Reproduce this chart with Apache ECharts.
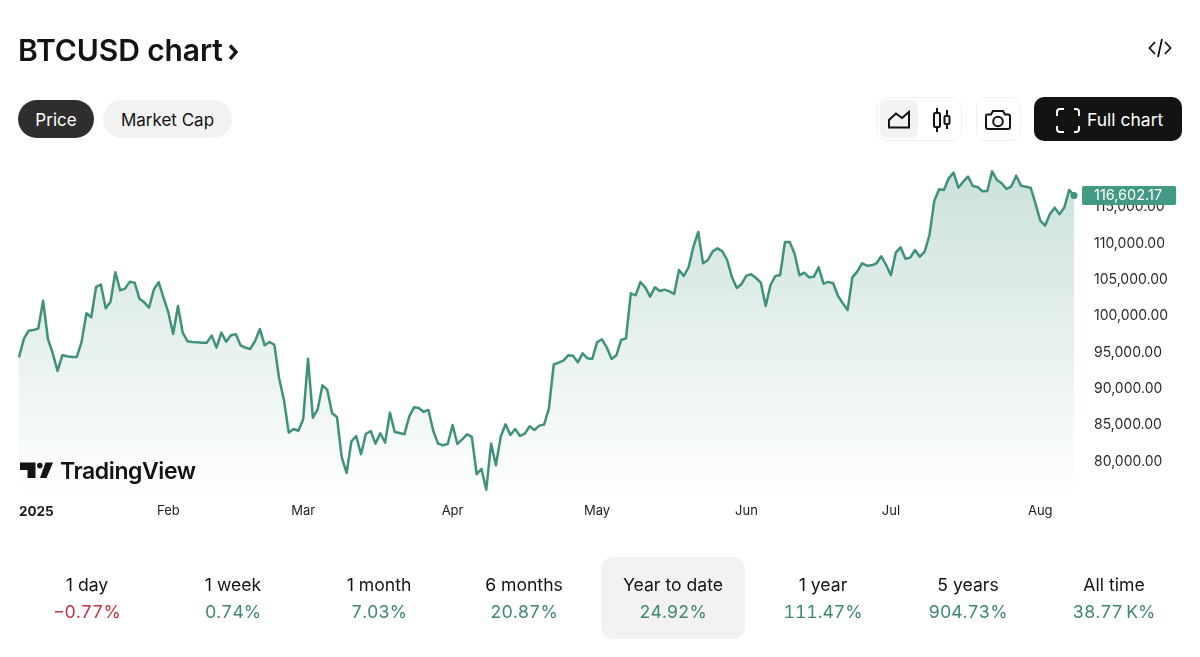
<!DOCTYPE html>
<html>
<head>
<meta charset="utf-8">
<title>BTCUSD chart</title>
<script src="https://cdn.jsdelivr.net/npm/echarts@6/dist/echarts.min.js"></script>
<style>
  html, body { margin: 0; padding: 0; background: #fff; }
  body { width: 1200px; height: 657px; position: relative; overflow: hidden; font-family: Inter, "Noto Sans", sans-serif; color: #131313; }
  #chart { position: absolute; left: 0; top: 0; width: 1200px; height: 657px; }
  .abs { position: absolute; box-sizing: border-box; }
  .title { left: 18px; top: 30px; font-size: 30px; line-height: 40px; font-weight: 600; letter-spacing: -0.1px; }
  .pill { top: 100px; height: 38px; line-height: 40px; border-radius: 19px; text-align: center; font-size: 17px; }
  .box { top: 97px; height: 44px; border: 1.5px solid #f0f0f0; border-radius: 10px; }
  .full { left: 1034px; top: 97px; width: 148px; height: 44px; border-radius: 10px; background: #131313; color: #fff; font-size: 17.5px; font-weight: 400; line-height: 46px; padding-left: 53px; }
  .logo { left: 60px; top: 455px; font-size: 23px; line-height: 32px; font-weight: 600; letter-spacing: -0.4px; color: #131313; }
  .tab { top: 557px; width: 144px; height: 82px; margin-left: -72px; border-radius: 12px; text-align: center; }
  .tab.on { background: #f2f2f2; }
  .tab .name { position: absolute; left: 0; right: 0; top: 17px; font-size: 17.6px; line-height: 22px; }
  .tab .chg { position: absolute; left: 0; right: 0; top: 44px; font-size: 17.6px; line-height: 22px; color: #3f8774; font-variant-numeric: tabular-nums; }
  .tab .chg.neg { color: #bf3340; }
  svg { position: absolute; overflow: visible; }
</style>
</head>
<body>
<div id="chart"></div>

<div class="abs title">BTCUSD chart</div>
<svg style="left:0;top:0" width="1200" height="657" fill="none" stroke="#131313">
  <!-- title chevron and embed icon -->
  <path d="M230 45.5 L236 52 L230 59" stroke-width="3.4"/>
  <path d="M1155 42 L1149.5 48 L1155 54 M1165 42 L1170.5 48 L1165 54 M1162 39 L1158 57" stroke-width="1.8"/>
</svg>

<div class="abs pill" style="left:18px;width:76px;background:#2e2e2e;color:#fff">Price</div>
<div class="abs pill" style="left:103px;width:129px;background:#f2f2f2">Market Cap</div>

<div class="abs box" style="left:877px;width:85px"></div>
<div class="abs" style="left:880px;top:100px;width:38px;height:38px;border-radius:7px;background:#f2f2f2"></div>
<div class="abs box" style="left:976px;width:45px"></div>
<div class="abs full">Full chart</div>

<svg style="left:0;top:0" width="1200" height="657" fill="none" stroke="#131313" stroke-width="2">
  <!-- toolbar icons -->
  <path d="M889 127.5 V120 L896 113.5 L902 118 L909 112 V127.5 Z"/>
  <path d="M937 108 V113 M937 127 V132 M947 110 V116 M947 124 V129"/>
  <rect x="934" y="113" width="6" height="14" rx="1"/>
  <rect x="944.5" y="116" width="5" height="8" rx="1"/>
  <path d="M987 114.5 H991 L993 111 H1003 L1005 114.5 H1008.5 Q1010 114.5 1010 116 V127 Q1010 129 1008 129 H988 Q986 129 986 127 V116 Q986 114.5 987 114.5 Z"/>
  <circle cx="998" cy="121.5" r="4.8"/>
  <g stroke="#fff" stroke-width="2">
    <path d="M1057 116 V112 Q1057 109 1060 109 H1064 M1074 109 H1076 Q1079 109 1079 112 V116 M1079 126 V129 Q1079 132 1076 132 H1074 M1064 132 H1060 Q1057 132 1057 129 V126"/>
  </g>
</svg>

<svg style="left:0;top:0" width="1200" height="657" fill="#131313" stroke="none">
  <!-- TradingView mark -->
  <path d="M20 462.5 H35.5 V478 H27.5 V470 H20 Z"/>
  <circle cx="39.8" cy="465.6" r="2.8"/>
  <path d="M45.5 462.5 H53 L46.5 478 H40 Z"/>
</svg>
<div class="abs logo">TradingView</div>

<div id="tabs"></div>

<script>
// values, one close per day from 2025-01-01
var startDay = Date.UTC(2025, 0, 1);
var prices = [
  94328, 96850, 97996, 98088, 98270, 102122, 96850, 94878, 92448, 94603,
  94466, 94374, 94374, 96482, 100380, 99830, 104002, 104323, 101068, 101985,
  106020, 103544, 103773, 104736, 104598, 102397, 101893, 101160, 103681, 104644,
  102535, 100518, 97537, 101389, 97675, 96528, 96437, 96391, 96345, 96345,
  97308, 95658, 97721, 96482, 97354, 97491, 95978, 95658, 95474, 96574,
  98225, 95978, 96437, 96050, 91420, 88459, 83966, 84470, 84220, 85846,
  94144, 86029, 87175, 90476, 89835, 86625, 86121, 80573, 78418, 82774,
  83507, 80985, 83782, 84195, 82453, 83874, 82590, 86717, 84057, 83920,
  83736, 86167, 87450, 87359, 86809, 87084, 84195, 82453, 82224, 82407,
  85020, 82407, 83049, 83736, 83370, 78235, 78968, 76126, 82453, 79473,
  83416, 85112, 83645, 84470, 83507, 83828, 84837, 84333, 84929, 85066,
  87313, 93340, 93594, 93870, 94603, 94557, 93640, 94878, 94190, 94099,
  96391, 96804, 95704, 94099, 94603, 96712, 96942, 103132, 102857, 104690,
  103957, 102673, 103957, 103452, 103636, 103407, 103040, 106341, 105516, 106708,
  109551, 111568, 107258, 107717, 108909, 109321, 108909, 107717, 105332, 103865,
  104415, 105561, 105745, 105241, 104599, 101389, 104278, 105516, 105653, 110192,
  110192, 108588, 105607, 105974, 105332, 105424, 106708, 104461, 104700, 104507,
  102800, 101755, 100839, 105332, 106112, 107257, 106936, 106982, 107257, 108221,
  107028, 105607, 108725, 109458, 107899, 108037, 109091, 108175, 108862, 111155,
  115877, 117436, 117345, 118949, 119729, 117665, 118491, 119179, 117895, 117757,
  117161, 117207, 119912, 118720, 118262, 117482, 117849, 119316, 117941, 117803,
  117665, 115511, 113126, 112438, 114043, 114915, 113997, 114960, 117345, 116602.17
];
var monthNames = ['2025', 'Feb', 'Mar', 'Apr', 'May', 'Jun', 'Jul', 'Aug'];
var periods = ['1 day', '1 week', '1 month', '6 months', 'Year to date', '1 year', '5 years', 'All time'];
var changes = ['\u22120.77%', '0.74%', '7.03%', '20.87%', '24.92%', '111.47%', '904.73%', '38.77\u2009K%'];
var activePeriod = 4;
var tabCenters = [87, 233, 379, 524, 673, 823, 968, 1114];

var dates = prices.map(function(p, i) {
  return new Date(startDay + i * 86400000).toISOString().slice(0, 10);
});

var tabHtml = '';
for (var i = 0; i < periods.length; i++) {
  tabHtml += '<div class="abs tab' + (i === activePeriod ? ' on' : '') + '" style="left:' + tabCenters[i] + 'px">' +
    '<div class="name">' + periods[i] + '</div>' +
    '<div class="chg' + (changes[i].charAt(0) === '\u2212' ? ' neg' : '') + '">' + changes[i] + '</div></div>';
}
document.getElementById('tabs').innerHTML = tabHtml;

var lastPrice = prices[prices.length - 1];
var lineColor = '#3f917c';

var chart = echarts.init(document.getElementById('chart'), null, { renderer: 'canvas' });
chart.setOption({
  animation: false,
  textStyle: { fontFamily: 'Inter, "Noto Sans", sans-serif' },
  grid: { left: 19, right: 126, top: 170.7, bottom: 159.2, containLabel: false },
  xAxis: {
    type: 'category',
    data: dates,
    boundaryGap: false,
    axisLine: { show: false },
    axisTick: { show: false },
    splitLine: { show: false },
    axisLabel: {
      margin: 7,
      fontSize: 13,
      color: '#1d1d1d',
      alignMinLabel: 'left',
      hideOverlap: false,
      interval: function(index, value) {
        return value.slice(8) === '01';
      },
      formatter: function(value) {
        var m = parseInt(value.slice(5, 7), 10) - 1;
        return m === 0 ? '{year|' + monthNames[m] + '}' : monthNames[m];
      },
      rich: {
        year: { fontSize: 13.5, fontWeight: 'bold', color: '#1d1d1d' }
      }
    }
  },
  yAxis: {
    type: 'value',
    position: 'right',
    min: 75000,
    max: 120000,
    interval: 5000,
    axisLine: { show: false },
    axisTick: { show: false },
    splitLine: { show: false },
    axisLabel: {
      margin: 20,
      fontSize: 14,
      color: '#2a2a2a',
      padding: [4, 0, 0, 0],
      showMinLabel: false,
      showMaxLabel: false,
      formatter: function(v) {
        return v.toLocaleString('en-US', { minimumFractionDigits: 2, maximumFractionDigits: 2 });
      }
    }
  },
  series: [{
    type: 'line',
    data: prices,
    showSymbol: false,
    silent: true,
    lineStyle: { color: lineColor, width: 2.5, join: 'round' },
    areaStyle: {
      color: new echarts.graphic.LinearGradient(0, 0, 0, 1, [
        { offset: 0, color: 'rgba(63,145,124,0.38)' },
        { offset: 1, color: 'rgba(63,145,124,0)' }
      ])
    },
    markPoint: {
      silent: true,
      symbol: 'circle',
      symbolSize: 7,
      itemStyle: { color: lineColor },
      label: {
        show: true,
        position: 'right',
        distance: 4.5,
        formatter: lastPrice.toLocaleString('en-US', { minimumFractionDigits: 2, maximumFractionDigits: 2 }),
        color: '#fff',
        fontSize: 14.5,
        backgroundColor: '#429a85',
        padding: [3, 14, 2, 12],
        borderRadius: 2,
        lineHeight: 14
      },
      data: [{ coord: [dates[dates.length - 1], lastPrice] }]
    }
  }]
});
</script>
</body>
</html>
